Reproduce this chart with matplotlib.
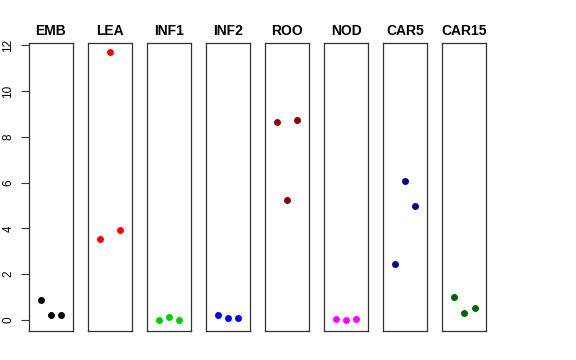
import matplotlib
matplotlib.use("Agg")
import matplotlib.pyplot as plt

plt.rcParams['font.family'] = ['Liberation Sans', 'DejaVu Sans']

# tissues and their three replicate values
tissues = ["EMB", "LEA", "INF1", "INF2", "ROO", "NOD", "CAR5", "CAR15"]
colors = ["black", "red", "#00CD00", "blue", "#8B0000", "magenta", "#00008B", "#006400"]
emb = [0.86, 0.24, 0.22]
lea = [3.53, 11.72, 3.92]
inf1 = [0.01, 0.11, 0.01]
inf2 = [0.22, 0.07, 0.09]
roo = [8.67, 5.23, 8.75]
nod = [0.03, 0.00, 0.03]
car5 = [2.46, 6.07, 4.98]
car15 = [0.99, 0.31, 0.54]
values = [emb, lea, inf1, inf2, roo, nod, car5, car15]
reps = [1, 2, 3]
yticks = [0, 2, 4, 6, 8, 10, 12]

W, H = 576, 360
fig = plt.figure(figsize=(W / 100, H / 100), dpi=100)

left0, step, pw = 29, 59.05, 44
top, bottom = 43, 331

for i, (name, col, vals) in enumerate(zip(tissues, colors, values)):
    x0 = left0 + i * step
    ax = fig.add_axes([x0 / W, (H - bottom) / H, pw / W, (bottom - top) / H])
    ax.plot(reps, vals, 'o', color=col, markersize=5, markeredgewidth=0)
    ax.set_xlim(-0.16, 4.16)
    ax.set_ylim(-0.48, 12.1)
    ax.set_xticks([])
    for s in ax.spines.values():
        s.set_color('#333333')
        s.set_linewidth(0.9)
    ax.set_title(name, fontsize=10, fontweight='bold', pad=6)
    if i == 0:
        ax.set_yticks(yticks)
        ax.tick_params(axis='y', length=5.5, width=0.8, color='#333333',
                       labelsize=8.5, pad=5)
        for lab in ax.get_yticklabels():
            lab.set_rotation(90)
            lab.set_va('center')
    else:
        ax.set_yticks([])

fig.savefig("out.png", dpi=100)
